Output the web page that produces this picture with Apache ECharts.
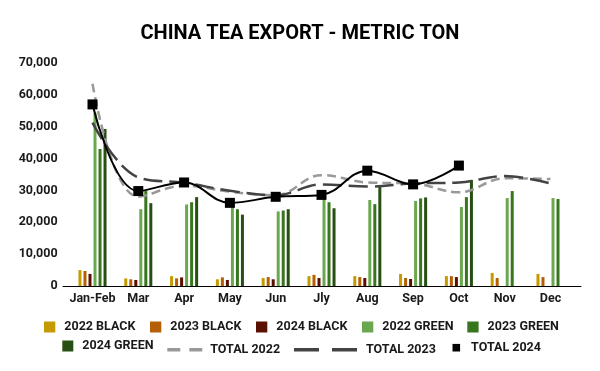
<!DOCTYPE html>
<html>
<head>
<meta charset="utf-8">
<script src="https://cdn.jsdelivr.net/npm/echarts@6/dist/echarts.min.js"></script>
<style>
html,body{margin:0;padding:0;background:#fff;}
#chart{width:600px;height:371px;}
</style>
</head>
<body>
<div id="chart"></div>
<script>
var categories = ['Jan-Feb','Mar','Apr','May','Jun','Jly','Aug','Sep','Oct','Nov','Dec'];
var black2022 = [5000, 2400, 3100, 2100, 2500, 3100, 3100, 3800, 3100, 4100, 3800];
var black2023 = [4700, 2100, 2400, 2700, 2800, 3500, 2800, 2500, 3100, 2500, 2800];
var black2024 = [3800, 1900, 2700, 1900, 2100, 2500, 2500, 2200, 2800, null, null];
var green2022 = [54400, 24100, 25600, 25500, 23400, 27500, 27000, 26700, 24800, 27600, 27600];
var green2023 = [43000, 29800, 26300, 24100, 23700, 26300, 25700, 27500, 27900, 29800, 27300];
var green2024 = [49300, 26000, 27900, 22400, 24100, 24400, 31200, 27800, 33300, null, null];
var total2022 = [63500, 28000, 31500, 29600, 28500, 34800, 32500, 32200, 29400, 33800, 33600];
var total2023 = [51300, 34100, 32400, 29900, 28500, 31900, 31200, 32200, 32500, 34500, 32200];
var total2024 = [57000, 29800, 32500, 26100, 28000, 28600, 36200, 31900, 37800, null, null];
var yTicks = [0, 10000, 20000, 30000, 40000, 50000, 60000, 70000];

var FONT = 'Roboto';
var chart = echarts.init(document.getElementById('chart'), null, {renderer:'canvas'});

function bar(name, data, color){
  return {name:name, type:'bar', data:data, barWidth:3, barGap:'67%',
    itemStyle:{color:color}, z:2};
}
var series = [
  bar('2022 BLACK', black2022, '#C49A00'),
  bar('2023 BLACK', black2023, '#B45F06'),
  bar('2024 BLACK', black2024, '#5B0F00'),
  bar('2022 GREEN', green2022, '#6AA84F'),
  bar('2023 GREEN', green2023, '#38761D'),
  bar('2024 GREEN', green2024, '#274E13'),
  {name:'TOTAL 2022', type:'line', data:total2022, smooth:0.4, symbol:'none',
    lineStyle:{color:'#999999', width:2.5, type:[9,5]}, itemStyle:{color:'#999999'}, z:3},
  {name:'TOTAL 2023', type:'line', data:total2023, smooth:0.4, symbol:'none',
    lineStyle:{color:'#434343', width:2.5, type:[19,7]}, itemStyle:{color:'#434343'}, z:3},
  {name:'TOTAL 2024', type:'line', data:total2024, smooth:0.4, symbol:'rect', symbolSize:10,
    lineStyle:{color:'#000', width:2}, itemStyle:{color:'#000'}, z:4}
];

var legendNames = ['2022 BLACK','2023 BLACK','2024 BLACK','2022 GREEN','2023 GREEN','2024 GREEN','TOTAL 2022','TOTAL 2023','TOTAL 2024'];
var legendLayout = [
  {left:44, top:320.5, w:11.3, h:11, icon:'rect', pad:4},
  {left:150, top:320.5, w:11.3, h:11, icon:'rect', pad:4},
  {left:256, top:320.5, w:11.3, h:11, icon:'rect', pad:4},
  {left:362, top:320.5, w:11.3, h:11, icon:'rect', pad:4},
  {left:467.3, top:320.5, w:11.3, h:11, icon:'rect', pad:4},
  {left:62.3, top:339.5, w:11, h:11, icon:'rect', pad:4},
  {left:167.3, top:343.2, w:35, h:3.6, icon:'path://M0,0H13V4H0Z M22,0H35V4H22Z', pad:3},
  {left:294, top:343.2, w:63, h:3.6, icon:'path://M0,0H25V4H0Z M38,0H63V4H38Z', pad:4},
  {left:452.5, top:341.2, w:7.6, h:7.6, icon:'rect', pad:6}
];
var legends = legendNames.map(function(n, i){
  var L = legendLayout[i];
  return {data:[{name:n, icon:L.icon}], left:L.left, top:L.top, itemWidth:L.w, itemHeight:L.h,
    itemGap:0, padding:0, selectedMode:false, symbolKeepAspect:false,
    textStyle:{fontFamily:FONT, fontWeight:'bold', fontSize:12.5, color:'#1a1a1a', padding:[0,0,0,L.pad]}};
});

chart.setOption({
  animation:false,
  backgroundColor:'#fff',
  title:{text:'CHINA TEA EXPORT - METRIC TON', left:'center', top:19,
    textStyle:{fontFamily:FONT, fontWeight:'bold', fontSize:20, color:'#000'}},
  legend:legends,
  grid:[
    {left:69.6, right:26.6, top:63, bottom:85, containLabel:false},
    {left:63, right:19, top:63, bottom:85, containLabel:false}
  ],
  xAxis:[
    {type:'category', data:categories, gridIndex:0,
      axisLine:{show:false}, axisTick:{show:false},
      axisLabel:{interval:0, fontFamily:FONT, fontWeight:'bold', fontSize:12.5, color:'#1a1a1a', margin:6}},
    {type:'value', gridIndex:1, min:0, max:1, show:true,
      axisLine:{show:true, lineStyle:{color:'#000', width:1}}, axisTick:{show:false},
      axisLabel:{show:false}, splitLine:{show:false}}
  ],
  yAxis:[
    {type:'value', gridIndex:0, min:0, max:70000, interval:10000,
      axisLine:{show:false}, axisTick:{show:false}, splitLine:{show:false},
      axisLabel:{fontFamily:FONT, fontWeight:'bold', fontSize:12.5, color:'#1a1a1a', margin:12,
        formatter:function(v){ return yTicks.indexOf(v) >= 0 ? v.toLocaleString('en-US') : ''; }}},
    {type:'value', gridIndex:1, min:0, max:1, show:false}
  ],
  series:series
});
</script>
</body>
</html>
